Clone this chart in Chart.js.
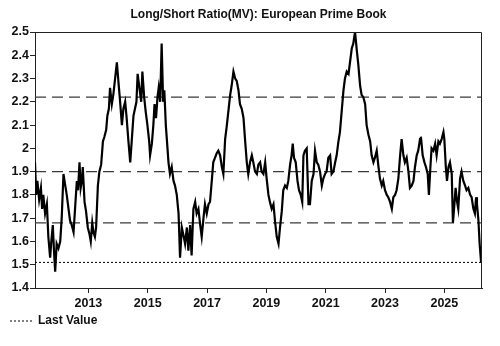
<!DOCTYPE html>
<html>
<head>
<meta charset="utf-8">
<script src="https://cdn.jsdelivr.net/npm/chart.js@4"></script>
<style>
  html, body { margin: 0; padding: 0; background: #fff; }
  #wrap { width: 500px; height: 346px; position: relative; }
</style>
</head>
<body>
<div id="wrap"><canvas id="myChart"></canvas></div>
<script>
var chartTitle = 'Long/Short Ratio(MV): European Prime Book';

// decimal years
var dates = [
  2011.20, 2011.24, 2011.28, 2011.34, 2011.40, 2011.44, 2011.48, 2011.54, 2011.60, 2011.65,
  2011.71, 2011.75, 2011.80, 2011.84, 2011.88, 2011.93, 2011.99, 2012.05, 2012.10, 2012.16,
  2012.22, 2012.27, 2012.33, 2012.38, 2012.44, 2012.50, 2012.55, 2012.61, 2012.65, 2012.70,
  2012.74, 2012.78, 2012.81, 2012.87, 2012.92, 2012.98, 2013.04, 2013.08, 2013.13, 2013.17,
  2013.22, 2013.26, 2013.32, 2013.37, 2013.43, 2013.49, 2013.54, 2013.60, 2013.64, 2013.69,
  2013.73, 2013.79, 2013.84, 2013.90, 2013.96, 2014.01, 2014.07, 2014.13, 2014.18, 2014.24,
  2014.29, 2014.35, 2014.41, 2014.46, 2014.52, 2014.57, 2014.62, 2014.66, 2014.72, 2014.78,
  2014.82, 2014.88, 2014.93, 2014.99, 2015.05, 2015.08, 2015.14, 2015.19, 2015.23, 2015.28,
  2015.33, 2015.37, 2015.42, 2015.47, 2015.52, 2015.56, 2015.61, 2015.65, 2015.70, 2015.75,
  2015.81, 2015.87, 2015.92, 2015.98, 2016.04, 2016.09, 2016.15, 2016.20, 2016.26, 2016.32,
  2016.37, 2016.43, 2016.48, 2016.54, 2016.60, 2016.65, 2016.71, 2016.77, 2016.82, 2016.88,
  2016.93, 2016.99, 2017.05, 2017.10, 2017.16, 2017.21, 2017.27, 2017.33, 2017.38, 2017.44,
  2017.50, 2017.55, 2017.61, 2017.66, 2017.72, 2017.78, 2017.83, 2017.89, 2017.95, 2018.00,
  2018.06, 2018.11, 2018.17, 2018.23, 2018.28, 2018.34, 2018.39, 2018.45, 2018.51, 2018.56,
  2018.62, 2018.68, 2018.73, 2018.79, 2018.84, 2018.90, 2018.96, 2019.01, 2019.07, 2019.12,
  2019.18, 2019.24, 2019.29, 2019.35, 2019.41, 2019.46, 2019.52, 2019.57, 2019.63, 2019.69,
  2019.74, 2019.80, 2019.85, 2019.89, 2019.93, 2019.99, 2020.05, 2020.10, 2020.16, 2020.21,
  2020.25, 2020.30, 2020.36, 2020.42, 2020.47, 2020.53, 2020.59, 2020.64, 2020.70, 2020.75,
  2020.81, 2020.87, 2020.92, 2020.98, 2021.03, 2021.09, 2021.15, 2021.20, 2021.26, 2021.32,
  2021.37, 2021.43, 2021.48, 2021.54, 2021.60, 2021.65, 2021.71, 2021.77, 2021.82, 2021.88,
  2021.93, 2021.99, 2022.05, 2022.10, 2022.16, 2022.21, 2022.27, 2022.33, 2022.38, 2022.44,
  2022.50, 2022.55, 2022.61, 2022.66, 2022.72, 2022.78, 2022.83, 2022.89, 2022.94, 2023.00,
  2023.06, 2023.11, 2023.17, 2023.23, 2023.28, 2023.34, 2023.39, 2023.45, 2023.51, 2023.56,
  2023.62, 2023.67, 2023.73, 2023.79, 2023.84, 2023.90, 2023.96, 2024.01, 2024.07, 2024.12,
  2024.18, 2024.21, 2024.27, 2024.33, 2024.38, 2024.44, 2024.48, 2024.53, 2024.57, 2024.63,
  2024.69, 2024.74, 2024.80, 2024.85, 2024.91, 2024.97, 2025.00, 2025.05, 2025.09, 2025.14,
  2025.19, 2025.25, 2025.29, 2025.34, 2025.38, 2025.43, 2025.47, 2025.53, 2025.58, 2025.64,
  2025.70, 2025.75, 2025.81, 2025.87, 2025.92, 2025.98, 2026.03, 2026.07, 2026.10, 2026.15,
  2026.19, 2026.24
];

var ratios = [
  1.94, 1.80, 1.86, 1.78, 1.83, 1.74, 1.80, 1.72, 1.76, 1.62,
  1.53, 1.60, 1.67, 1.56, 1.47, 1.59, 1.57, 1.60, 1.70, 1.89,
  1.84, 1.80, 1.74, 1.69, 1.67, 1.64, 1.74, 1.86, 1.82, 1.94,
  1.83, 1.86, 1.92, 1.77, 1.73, 1.66, 1.63, 1.60, 1.68, 1.64,
  1.62, 1.66, 1.84, 1.90, 1.93, 2.03, 2.05, 2.08, 2.14, 2.17,
  2.26, 2.19, 2.23, 2.30, 2.37, 2.29, 2.20, 2.10, 2.17, 2.20,
  2.13, 2.03, 1.94, 2.03, 2.14, 2.17, 2.20, 2.32, 2.26, 2.20,
  2.33, 2.22, 2.16, 2.10, 2.03, 1.97, 2.02, 2.10, 2.19, 2.13,
  2.22, 2.26, 2.20, 2.45, 2.20, 2.25, 2.10, 2.03, 1.94, 1.89,
  1.92, 1.86, 1.84, 1.80, 1.72, 1.53, 1.66, 1.63, 1.59, 1.66,
  1.56, 1.67, 1.54, 1.74, 1.77, 1.72, 1.74, 1.67, 1.62, 1.70,
  1.76, 1.72, 1.76, 1.77, 1.86, 1.94, 1.96, 1.98, 1.99, 1.97,
  1.92, 1.89, 2.04, 2.09, 2.16, 2.23, 2.27, 2.33, 2.30, 2.29,
  2.25, 2.19, 2.17, 2.13, 2.04, 1.94, 1.89, 1.94, 1.97, 1.94,
  1.90, 1.89, 1.93, 1.94, 1.90, 1.89, 1.94, 1.87, 1.80, 1.77,
  1.74, 1.76, 1.69, 1.62, 1.59, 1.66, 1.73, 1.82, 1.84, 1.83,
  1.86, 1.93, 1.97, 2.02, 1.96, 1.94, 1.86, 1.82, 1.80, 1.77,
  1.97, 1.99, 2.00, 1.76, 1.76, 1.86, 1.89, 1.99, 1.94, 1.93,
  1.90, 1.84, 1.87, 1.89, 1.90, 1.96, 1.97, 1.89, 1.90, 1.94,
  1.97, 2.03, 2.07, 2.16, 2.25, 2.30, 2.33, 2.32, 2.37, 2.43,
  2.45, 2.50, 2.42, 2.36, 2.27, 2.23, 2.22, 2.19, 2.10, 2.06,
  2.03, 1.97, 1.94, 1.96, 1.99, 1.92, 1.87, 1.84, 1.86, 1.82,
  1.80, 1.79, 1.77, 1.74, 1.79, 1.80, 1.82, 1.87, 1.97, 2.04,
  1.97, 1.94, 1.96, 1.90, 1.83, 1.84, 1.86, 1.92, 1.97, 1.99,
  2.04, 2.05, 1.97, 1.94, 1.92, 1.89, 1.80, 1.92, 2.00, 1.99,
  2.02, 1.97, 2.03, 2.02, 2.04, 2.07, 2.04, 1.92, 1.86, 1.92,
  1.94, 1.89, 1.68, 1.76, 1.83, 1.77, 1.74, 1.87, 1.90, 1.86,
  1.84, 1.82, 1.83, 1.80, 1.79, 1.74, 1.72, 1.79, 1.76, 1.69,
  1.59, 1.51
];

var refLevels = [2.22, 1.9, 1.68];
var lastValue = ratios[ratios.length - 1];
var yearTicks = [2013, 2015, 2017, 2019, 2021, 2023, 2025];
var xRange = [2011.2, 2026.27];
var yRange = [1.4, 2.5];

var fontFamily = '"Liberation Sans", Arial, sans-serif';
var ink = '#111';

function hLine(level) {
  return [{ x: xRange[0], y: level }, { x: xRange[1], y: level }];
}

var datasets = [{
  label: 'Long/Short Ratio',
  data: dates.map(function(d, i) { return { x: d, y: ratios[i] }; }),
  borderColor: '#000',
  borderWidth: 2.2,
  pointRadius: 0,
  tension: 0
}];

refLevels.forEach(function(level) {
  datasets.push({
    label: 'Ref ' + level,
    data: hLine(level),
    borderColor: '#3a3a3a',
    borderWidth: 1.4,
    borderDash: [11, 6],
    pointRadius: 0
  });
});

datasets.push({
  label: 'Last Value',
  data: hLine(lastValue),
  borderColor: '#000',
  borderWidth: 1,
  borderDash: [2, 2],
  pointRadius: 0
});

// top/right frame and the title centred over the plot
var frameAndTitle = {
  id: 'frameAndTitle',
  afterDraw: function(chart) {
    var ctx = chart.ctx, a = chart.chartArea;
    ctx.save();
    ctx.strokeStyle = '#222';
    ctx.lineWidth = 1;
    ctx.beginPath();
    ctx.moveTo(Math.round(a.left), Math.round(a.top) + 0.5);
    ctx.lineTo(Math.round(a.right) - 0.5, Math.round(a.top) + 0.5);
    ctx.lineTo(Math.round(a.right) - 0.5, Math.round(a.bottom));
    ctx.stroke();
    ctx.fillStyle = ink;
    ctx.font = 'bold 12px ' + fontFamily;
    ctx.textAlign = 'center';
    ctx.textBaseline = 'middle';
    ctx.fillText(chartTitle, (a.left + a.right) / 2, 15);
    ctx.restore();
  }
};

var ctx = document.getElementById('myChart').getContext('2d');
var myChart = new Chart(ctx, {
  type: 'line',
  data: { datasets: datasets },
  plugins: [frameAndTitle],
  options: {
    responsive: true,
    maintainAspectRatio: false,
    animation: false,
    devicePixelRatio: 1,
    layout: { padding: { top: 32, left: 6, right: 18, bottom: 9 } },
    plugins: {
      title: { display: false },
      tooltip: { enabled: false },
      legend: {
        position: 'bottom',
        align: 'start',
        labels: {
          filter: function(item) { return item.text === 'Last Value'; },
          generateLabels: function(chart) {
            var items = Chart.defaults.plugins.legend.labels.generateLabels(chart);
            items.forEach(function(it) {
              it.lineDash = chart.data.datasets[it.datasetIndex].borderDash;
            });
            return items;
          },
          usePointStyle: true,
          pointStyle: 'line',
          pointStyleWidth: 22,
          padding: 4,
          color: ink,
          font: { family: fontFamily, size: 12, weight: 'bold' }
        }
      }
    },
    scales: {
      x: {
        type: 'linear',
        min: xRange[0],
        max: xRange[1],
        afterBuildTicks: function(scale) {
          scale.ticks = yearTicks.map(function(v) { return { value: v }; });
        },
        afterFit: function(scale) { scale.height = 23; },
        ticks: {
          callback: function(v) { return String(v); },
          autoSkip: false,
          maxRotation: 0,
          padding: 3,
          color: ink,
          font: { family: fontFamily, size: 12.5, weight: 'bold' }
        },
        grid: { drawOnChartArea: false, drawTicks: true, tickLength: 5, color: '#222' },
        border: { color: '#222', width: 1 }
      },
      y: {
        min: yRange[0],
        max: yRange[1],
        afterFit: function(scale) { scale.width = 29; },
        ticks: {
          stepSize: 0.1,
          callback: function(v) { return String(Math.round(v * 10) / 10); },
          padding: 1,
          color: ink,
          font: { family: fontFamily, size: 12.5, weight: 'bold' }
        },
        grid: { drawOnChartArea: false, drawTicks: true, tickLength: 5, color: '#222' },
        border: { color: '#222', width: 1 }
      }
    }
  }
});
</script>
</body>
</html>
